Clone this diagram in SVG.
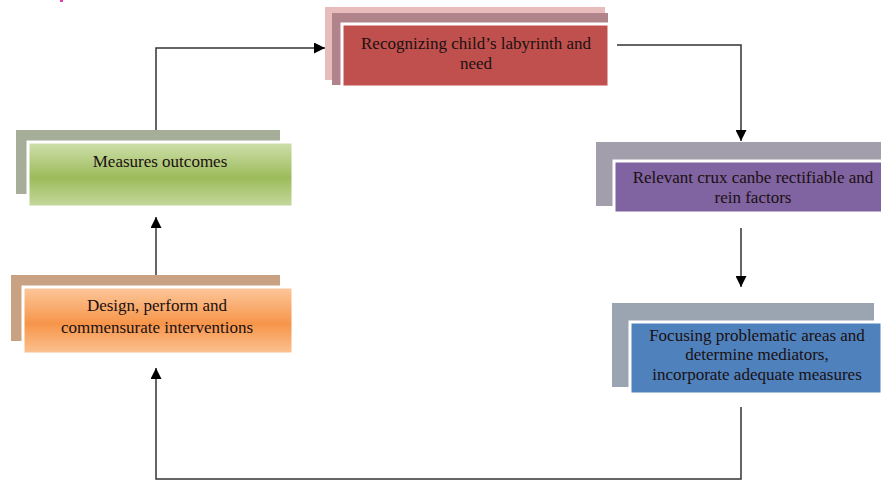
<svg xmlns="http://www.w3.org/2000/svg" width="881" height="481" viewBox="0 0 881 481">
<defs>
<linearGradient id="gGreen" x1="0" y1="0" x2="0" y2="1">
<stop offset="0" stop-color="#cfe0ad"/><stop offset="0.55" stop-color="#9cbb5a"/><stop offset="1" stop-color="#c6d9a0"/>
</linearGradient>
<linearGradient id="gOrange" x1="0" y1="0" x2="0" y2="1">
<stop offset="0" stop-color="#fcc89c"/><stop offset="0.55" stop-color="#f7954a"/><stop offset="1" stop-color="#fcc393"/>
</linearGradient>
<marker id="arr" viewBox="0 0 10 10" refX="10" refY="5" markerWidth="11" markerHeight="11" markerUnits="userSpaceOnUse" orient="auto">
<path d="M0,0 L10,5 L0,10 Z" fill="#000"/>
</marker>
</defs>
<style>
.lbl{font-family:"Liberation Serif","Times New Roman",serif;font-size:17px;text-anchor:middle;fill:#1a1010}
.front{stroke:#fff;stroke-width:3}
.edge{fill:none;stroke:#333;stroke-width:1.5;marker-end:url(#arr)}
</style>
<rect x="60" y="0" width="3" height="2" fill="#e040c0"/>
<g id="node-recognize">
<rect x="325" y="7" width="280" height="73" fill="#e8bcbb"/>
<rect x="332" y="13" width="276" height="72" fill="#b1838a"/>
<rect class="front" x="342" y="24" width="267" height="63" fill="#c0504d"/>
<text class="lbl" x="476" y="49">Recognizing child’s labyrinth and</text>
<text class="lbl" x="476" y="69">need</text>
</g>
<g id="node-relevant">
<rect x="596" y="142" width="285" height="64" fill="#a39eab"/>
<rect class="front" x="614" y="161" width="270" height="52" fill="#8063a1"/>
<text class="lbl" x="753" y="183">Relevant crux canbe rectifiable and</text>
<text class="lbl" x="753" y="203">rein factors</text>
</g>
<g id="node-focus">
<rect x="612" y="303" width="262" height="84" fill="#9ba4b1"/>
<rect class="front" x="630" y="322" width="252" height="72" fill="#4f81bd"/>
<text class="lbl" x="757" y="341">Focusing problematic areas and</text>
<text class="lbl" x="757" y="360">determine mediators,</text>
<text class="lbl" x="757" y="380">incorporate adequate measures</text>
</g>
<g id="node-measures">
<rect x="16" y="130" width="264" height="64" fill="#a6ad98"/>
<rect class="front" x="28" y="142" width="265" height="65" fill="url(#gGreen)"/>
<text class="lbl" x="160" y="167">Measures outcomes</text>
</g>
<g id="node-design">
<rect x="11" y="275" width="269" height="66" fill="#c9a283"/>
<rect class="front" x="23" y="287" width="270" height="67" fill="url(#gOrange)"/>
<text class="lbl" x="157" y="311">Design, perform and</text>
<text class="lbl" x="157" y="333">commensurate interventions</text>
</g>
<g id="connectors">
<path class="edge" d="M156,130 V48 H325"/>
<path class="edge" d="M617,45 H741 V141"/>
<path class="edge" d="M741,228 V287"/>
<path class="edge" d="M741,407 V479 H156 V368"/>
<path class="edge" d="M156,275 V217"/>
</g>
</svg>
